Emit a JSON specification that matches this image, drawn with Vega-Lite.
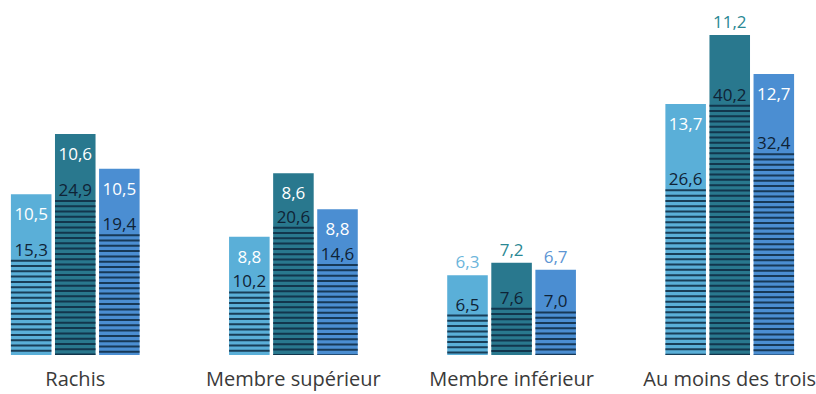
{
  "$schema": "https://vega.github.io/schema/vega-lite/v6.json",
  "width": 805,
  "height": 355,
  "autosize": {"type": "none"},
  "padding": {"top": 0, "left": 0, "right": 11, "bottom": 39},
  "background": "white",
  "config": {"view": {"stroke": null}, "font": "Open Sans"},
  "data": {
    "values": [
      {"group": "Rachis", "serie": "a", "hatched": 15.3, "solid": 10.5},
      {"group": "Rachis", "serie": "b", "hatched": 24.9, "solid": 10.6},
      {"group": "Rachis", "serie": "c", "hatched": 19.4, "solid": 10.5},
      {"group": "Membre supérieur", "serie": "a", "hatched": 10.2, "solid": 8.8},
      {"group": "Membre supérieur", "serie": "b", "hatched": 20.6, "solid": 8.6},
      {"group": "Membre supérieur", "serie": "c", "hatched": 14.6, "solid": 8.8},
      {"group": "Membre inférieur", "serie": "a", "hatched": 6.5, "solid": 6.3},
      {"group": "Membre inférieur", "serie": "b", "hatched": 7.6, "solid": 7.2},
      {"group": "Membre inférieur", "serie": "c", "hatched": 7.0, "solid": 6.7},
      {"group": "Au moins des trois", "serie": "a", "hatched": 26.6, "solid": 13.7},
      {"group": "Au moins des trois", "serie": "b", "hatched": 40.2, "solid": 11.2},
      {"group": "Au moins des trois", "serie": "c", "hatched": 32.4, "solid": 12.7}
    ]
  },
  "transform": [
    {"calculate": "datum.hatched + datum.solid", "as": "total"},
    {"calculate": "replace(format(datum.hatched, '.1f'), '.', ',')", "as": "labH"},
    {"calculate": "replace(format(datum.solid, '.1f'), '.', ',')", "as": "labS"}
  ],
  "encoding": {
    "x": {
      "field": "group",
      "type": "nominal",
      "sort": null,
      "scale": {"paddingInner": 0.41, "paddingOuter": 0.05},
      "axis": {
        "title": null,
        "labelAngle": 0,
        "domain": false,
        "ticks": false,
        "labelPadding": 14,
        "labelFontSize": 20,
        "labelColor": "#3a3a3a",
        "labelFont": "Open Sans"
      }
    },
    "xOffset": {"field": "serie", "type": "nominal", "scale": {"paddingInner": 0.08}}
  },
  "layer": [
    {
      "mark": {"type": "bar"},
      "encoding": {
        "y": {"field": "total", "type": "quantitative", "scale": {"domain": [0, 57], "nice": false}, "axis": null},
        "color": {
          "field": "serie",
          "type": "nominal",
          "scale": {"domain": ["a", "b", "c"], "range": ["#5AAFD8", "#29788E", "#4B8ED2"]},
          "legend": null
        }
      }
    },
    {
      "mark": {"type": "rule", "strokeWidth": 40.5, "strokeCap": "butt", "strokeDash": [2, 3.3], "color": "#0E2A42", "opacity": 0.85},
      "encoding": {
        "y": {"field": "hatched", "type": "quantitative"},
        "y2": {"datum": 0}
      }
    },
    {
      "mark": {"type": "text", "dy": -4, "baseline": "alphabetic", "fontSize": 17, "color": "#0F2336"},
      "encoding": {
        "y": {"field": "hatched", "type": "quantitative"},
        "text": {"field": "labH", "type": "nominal"}
      }
    },
    {
      "transform": [
        {"filter": "!(datum.group == 'Membre inférieur' || (datum.group == 'Au moins des trois' && datum.serie == 'b'))"}
      ],
      "mark": {"type": "text", "dy": 26, "baseline": "alphabetic", "fontSize": 17, "color": "white"},
      "encoding": {
        "y": {"field": "total", "type": "quantitative"},
        "text": {"field": "labS", "type": "nominal"}
      }
    },
    {
      "transform": [
        {"filter": "datum.group == 'Membre inférieur' || (datum.group == 'Au moins des trois' && datum.serie == 'b')"}
      ],
      "mark": {"type": "text", "dy": -7, "baseline": "alphabetic", "fontSize": 17},
      "encoding": {
        "y": {"field": "total", "type": "quantitative"},
        "text": {"field": "labS", "type": "nominal"},
        "color": {
          "field": "serie",
          "type": "nominal",
          "scale": {"domain": ["a", "b", "c"], "range": ["#6BB5DB", "#2A8894", "#5C95D4"]},
          "legend": null
        }
      }
    }
  ],
  "resolve": {"scale": {"color": "independent"}}
}
